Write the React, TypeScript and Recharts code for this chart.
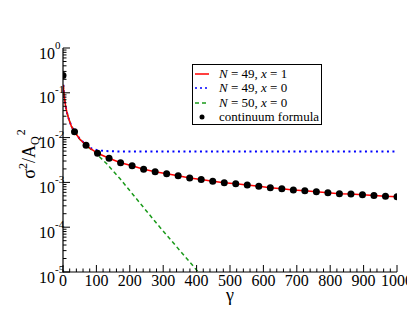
import React from 'react';
import { ComposedChart, Line, Scatter, XAxis, YAxis } from 'recharts';

// continuum formula points
const dotGamma = [0, 34.5, 69, 103.4, 137.9, 172.4, 206.9, 241.4, 275.9, 310.3, 344.8, 379.3, 413.8, 448.3, 482.8, 517.2, 551.7, 586.2, 620.7, 655.2, 689.7, 724.1, 758.6, 793.1, 827.6, 862.1, 896.6, 931, 965.5, 1000];
const dotValue = [0.243, 0.0135, 0.00676, 0.00447, 0.00347, 0.00274, 0.00235, 0.00197, 0.00173, 0.00156, 0.00141, 0.00126, 0.00116, 0.00106, 0.00098, 0.00093, 0.00087, 0.00082, 0.00076, 0.00072, 0.00068, 0.00065, 0.00062, 0.00059, 0.00056, 0.00055, 0.00053, 0.00051, 0.00049, 0.00048];

// N = 49, x = 1
const redGamma = [1, 2, 4, 6, 8, 12, 16, 20, 25, 34.5, 50, 69, 85, 103.4, 137.9, 172.4, 206.9, 241.4, 275.9, 310.3, 344.8, 379.3, 413.8, 448.3, 482.8, 517.2, 551.7, 586.2, 620.7, 655.2, 689.7, 724.1, 758.6, 793.1, 827.6, 862.1, 896.6, 931, 965.5, 1000];
const redValue = [0.15, 0.11, 0.08, 0.062, 0.05, 0.036, 0.028, 0.023, 0.018, 0.0135, 0.0093, 0.00676, 0.0055, 0.00447, 0.00347, 0.00274, 0.00235, 0.00197, 0.00173, 0.00156, 0.00141, 0.00126, 0.00116, 0.00106, 0.00098, 0.00093, 0.00087, 0.00082, 0.00076, 0.00072, 0.00068, 0.00065, 0.00062, 0.00059, 0.00056, 0.00055, 0.00053, 0.00051, 0.00049, 0.00048];

// N = 49, x = 0
const blueGamma = [1, 2, 4, 6, 8, 12, 16, 20, 25, 34.5, 50, 69, 85, 103, 130, 170, 300, 500, 700, 1000];
const blueValue = [0.15, 0.11, 0.08, 0.062, 0.05, 0.036, 0.028, 0.023, 0.018, 0.0136, 0.0094, 0.0069, 0.0057, 0.0052, 0.005, 0.0049, 0.0049, 0.0049, 0.0049, 0.0049];

// N = 50, x = 0
const greenGamma = [1, 2, 4, 6, 8, 12, 16, 20, 25, 34.5, 50, 69, 91, 110, 131, 171, 281, 405];
const greenValue = [0.15, 0.11, 0.08, 0.062, 0.05, 0.036, 0.028, 0.023, 0.018, 0.0134, 0.0092, 0.0066, 0.005, 0.0037, 0.0026, 0.0012, 0.00012, 0.00001];

const xTicks = [0, 20, 40, 60, 80, 100, 120, 140, 160, 180, 200, 220, 240, 260, 280, 300, 320, 340, 360, 380, 400, 420, 440, 460, 480, 500, 520, 540, 560, 580, 600, 620, 640, 660, 680, 700, 720, 740, 760, 780, 800, 820, 840, 860, 880, 900, 920, 940, 960, 980, 1000];
const decadeExps = [-5, -4, -3, -2, -1, 0];
const minorMults = [2, 3, 4, 5, 6, 7, 8, 9];
const yTicks: number[] = [];
decadeExps.forEach((e) => {
  yTicks.push(Math.pow(10, e));
  if (e < 0) minorMults.forEach((m) => yTicks.push(m * Math.pow(10, e)));
});

const zip = (xs: number[], ys: number[]) => xs.map((x, i) => ({ x, y: ys[i] }));
const dotData = zip(dotGamma, dotValue);
const redData = zip(redGamma, redValue);
const blueData = zip(blueGamma, blueValue);
const greenData = zip(greenGamma, greenValue);

const FONT = 'Liberation Serif, DejaVu Serif, serif';
const MAJ = 7;
const MIN = 3.5;

const isDecade = (v: number) => {
  const l = Math.log10(v);
  return Math.abs(l - Math.round(l)) < 1e-6;
};

const BottomTick = (p: any) => {
  const v = p.payload.value;
  const major = v % 100 === 0;
  return (
    <g>
      <line x1={p.x} x2={p.x} y1={p.y} y2={p.y - (major ? MAJ : MIN)} stroke="#000" strokeWidth={1} />
      {major && (
        <text x={p.x} y={p.y + 13.5} textAnchor="middle" style={{ fontFamily: FONT, fontSize: 16 }} fill="#000">
          {v}
        </text>
      )}
    </g>
  );
};

const TopTick = (p: any) => {
  const v = p.payload.value;
  const major = v % 100 === 0;
  return <line x1={p.x} x2={p.x} y1={p.y} y2={p.y + (major ? MAJ : MIN)} stroke="#000" strokeWidth={1} />;
};

const LeftTick = (p: any) => {
  const v = p.payload.value;
  const major = isDecade(v);
  const e = Math.round(Math.log10(v));
  return (
    <g>
      <line x1={p.x} x2={p.x + (major ? MAJ : MIN)} y1={p.y} y2={p.y} stroke="#000" strokeWidth={1} />
      {major && (
        <text x={p.x - 24} y={p.y + 10.5} textAnchor="start" style={{ fontFamily: FONT, fontSize: 16 }} fill="#000">
          10
          <tspan dy={-10} style={{ fontSize: 11 }}>
            {String(e)}
          </tspan>
        </text>
      )}
    </g>
  );
};

const RightTick = (p: any) => {
  const v = p.payload.value;
  const major = isDecade(v);
  return <line x1={p.x} x2={p.x - (major ? MAJ : MIN)} y1={p.y} y2={p.y} stroke="#000" strokeWidth={1} />;
};

const XLabel = (p: any) => {
  const vb = p.viewBox;
  return (
    <text x={vb.x + vb.width / 2} y={vb.y + 29} textAnchor="middle" style={{ fontFamily: FONT, fontSize: 18 }} fill="#000">
      γ
    </text>
  );
};

const YLabel = () => {
  const cx = 27;
  const cy = 146;
  return (
    <text
      x={cx}
      y={cy}
      transform={`rotate(-90, ${cx}, ${cy})`}
      textAnchor="middle"
      style={{ fontFamily: FONT, fontSize: 18 }}
      fill="#000"
    >
      σ
      <tspan dy={-8} style={{ fontSize: 12 }}>2</tspan>
      <tspan dy={8}>/A</tspan>
      <tspan dy={4} style={{ fontSize: 12 }}>Q</tspan>
      <tspan dy={-14} dx={1} style={{ fontSize: 12 }}>2</tspan>
    </text>
  );
};

const Dot = (p: any) => <circle cx={p.cx} cy={p.cy} r={3.5} fill="#000" />;

const legendRows = [
  { color: '#ff0000', dash: undefined, n: '49', xv: '1' },
  { color: '#0000ff', dash: '2 3', n: '49', xv: '0' },
  { color: '#1a9a1a', dash: '4 3', n: '50', xv: '0' },
];

const Legend = () => (
  <div
    style={{
      position: 'absolute',
      left: 184,
      top: 56,
      width: 128,
      height: 57,
      border: '1.5px solid #000',
      background: '#fff',
      fontFamily: FONT,
      fontSize: 13,
      color: '#000',
      paddingTop: 2,
      boxSizing: 'content-box',
    }}
  >
    {legendRows.map((r, i) => (
      <div key={i} style={{ height: 14.3, display: 'flex', alignItems: 'center', whiteSpace: 'nowrap' }}>
        <svg width={26} height={14} style={{ flex: 'none' }}>
          <line x1={2} x2={16} y1={7} y2={7} stroke={r.color} strokeWidth={1.5} strokeDasharray={r.dash} />
        </svg>
        <span>
          <i>N</i> = {r.n}, <i>x</i> = {r.xv}
        </span>
      </div>
    ))}
    <div style={{ height: 14.3, display: 'flex', alignItems: 'center', whiteSpace: 'nowrap' }}>
      <svg width={26} height={14} style={{ flex: 'none' }}>
        <circle cx={9} cy={7} r={2.5} fill="#000" />
      </svg>
      <span>continuum formula</span>
    </div>
  </div>
);

export default function App() {
  return (
    <div style={{ position: 'relative', width: 407, height: 305 }}>
      <ComposedChart width={407} height={305} margin={{ top: 40, right: 18, bottom: 0, left: 0 }}>
        <XAxis
          xAxisId="b"
          dataKey="x"
          type="number"
          domain={[0, 1000]}
          ticks={xTicks}
          interval={0}
          allowDataOverflow
          height={41}
          tickSize={0}
          tickMargin={0}
          tickLine={false}
          tick={<BottomTick />}
          axisLine={{ stroke: '#000', strokeWidth: 1.2 }}
          label={<XLabel />}
        />
        <XAxis
          xAxisId="t"
          orientation="top"
          dataKey="x"
          type="number"
          domain={[0, 1000]}
          ticks={xTicks}
          interval={0}
          allowDataOverflow
          height={0}
          tickSize={0}
          tickMargin={0}
          tickLine={false}
          tick={<TopTick />}
          axisLine={{ stroke: '#000', strokeWidth: 1.2 }}
        />
        <YAxis
          yAxisId="l"
          dataKey="y"
          type="number"
          scale="log"
          domain={[1e-5, 1]}
          ticks={yTicks}
          interval={0}
          allowDataOverflow
          width={55}
          tickSize={0}
          tickMargin={0}
          tickLine={false}
          tick={<LeftTick />}
          axisLine={{ stroke: '#000', strokeWidth: 1.2 }}
          label={<YLabel />}
        />
        <YAxis
          yAxisId="r"
          orientation="right"
          dataKey="y"
          type="number"
          scale="log"
          domain={[1e-5, 1]}
          ticks={yTicks}
          interval={0}
          allowDataOverflow
          width={0}
          tickSize={0}
          tickMargin={0}
          tickLine={false}
          tick={<RightTick />}
          axisLine={{ stroke: '#000', strokeWidth: 1.2 }}
        />
        <Line
          xAxisId="b"
          yAxisId="l"
          data={greenData}
          dataKey="y"
          type="linear"
          stroke="#1a9a1a"
          strokeWidth={1.5}
          strokeDasharray="4 3"
          dot={false}
          isAnimationActive={false}
        />
        <Line
          xAxisId="b"
          yAxisId="l"
          data={blueData}
          dataKey="y"
          type="linear"
          stroke="#0000ff"
          strokeWidth={2}
          strokeDasharray="2 3.5"
          dot={false}
          isAnimationActive={false}
        />
        <Line
          xAxisId="b"
          yAxisId="l"
          data={redData}
          dataKey="y"
          type="linear"
          stroke="#ff0000"
          strokeWidth={1.5}
          dot={false}
          isAnimationActive={false}
        />
        <Scatter
          xAxisId="b"
          yAxisId="l"
          data={dotData}
          dataKey="y"
          fill="#000"
          shape={<Dot />}
          isAnimationActive={false}
        />
      </ComposedChart>
      <Legend />
    </div>
  );
}
